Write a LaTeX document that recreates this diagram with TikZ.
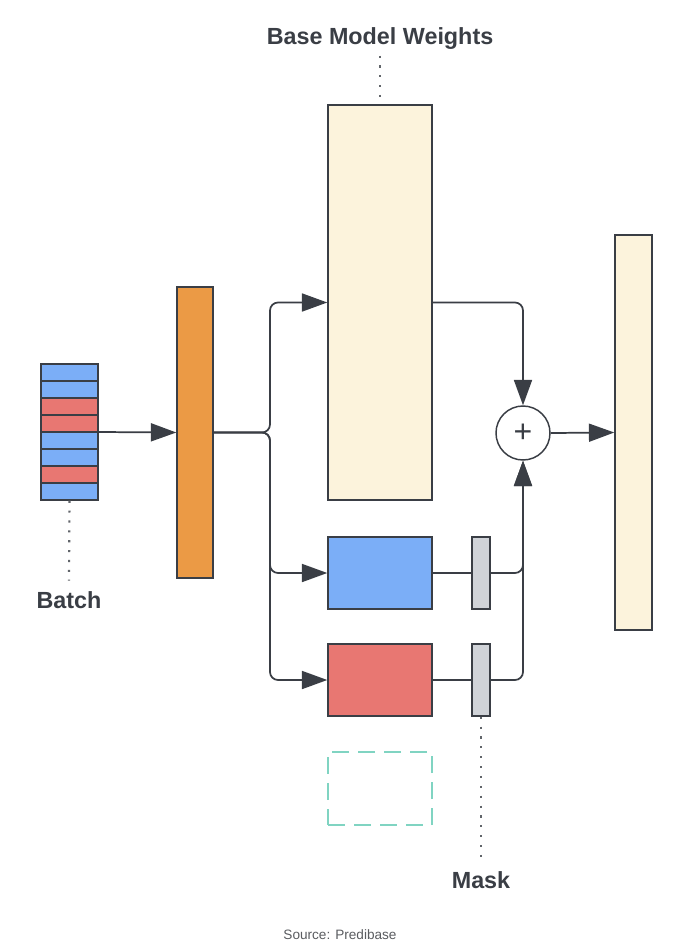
\documentclass[tikz,border=0pt]{standalone}
\usepackage{fontspec}
\setmainfont{Liberation Sans}
\usetikzlibrary{arrows.meta}

\definecolor{linegray}{HTML}{3A3E45}
\definecolor{batchblue}{HTML}{7BAEF7}
\definecolor{batchred}{HTML}{E87772}
\definecolor{layerorange}{HTML}{EB9A45}
\definecolor{weightcream}{HTML}{FCF3DC}
\definecolor{maskgray}{HTML}{D0D3D8}
\definecolor{slotteal}{HTML}{80D4C2}
\definecolor{sourcegray}{HTML}{5A5C60}

\tikzset{
	block/.style = {draw = linegray, line width = 1.1pt, inner sep = 0pt},
	stripe/.style = {block, line width = 1.3pt, minimum width = 42.75pt, minimum height = 12.75pt},
	conn/.style = {draw = linegray, line width = 1.3pt, rounded corners = 6pt},
	arr/.style = {conn, -{Triangle[length = 19pt, width = 13.5pt]}},
	dotline/.style = {draw = linegray!80, line width = 1.6pt, dash pattern = on 1.6pt off 5.8pt},
	tag/.style = {font = \fontsize{17.5}{20}\selectfont\bfseries, text = linegray, inner sep = 2pt}
}

\begin{document}
\begin{tikzpicture}[x = 0.75pt, y = -0.75pt]

	\useasboundingbox [fill = white] (0, 0) rectangle (680, 946);

	% Batch

	\node [stripe, fill = batchblue] (b1) at (69.5, 372.5) {};
	\node [stripe, fill = batchblue] (b2) at (69.5, 389.5) {};
	\node [stripe, fill = batchred] (b3) at (69.5, 406.5) {};
	\node [stripe, fill = batchred] (b4) at (69.5, 423.5) {};
	\node [stripe, fill = batchblue] (b5) at (69.5, 440.5) {};
	\node [stripe, fill = batchblue] (b6) at (69.5, 457.5) {};
	\node [stripe, fill = batchred] (b7) at (69.5, 474.5) {};
	\node [stripe, fill = batchblue] (b8) at (69.5, 491.5) {};
	\node [block, minimum width = 42.75pt, minimum height = 102pt] (batch) at (69.5, 432) {};

	\node [tag] (batchtag) at (69, 600) {Batch};
	\draw [dotline] (batch.south) -- ([yshift = 6pt] batchtag.north);

	% Layer input

	\node [block, fill = layerorange, minimum width = 27pt, minimum height = 218.25pt] (layer) at (195, 432.5) {};

	% Base weights and adapters

	\node [block, fill = weightcream, minimum width = 78pt, minimum height = 296.25pt] (base) at (380, 302.5) {};
	\node [block, fill = batchblue, minimum width = 78pt, minimum height = 54pt] (adblue) at (380, 573) {};
	\node [block, fill = batchred, minimum width = 78pt, minimum height = 54pt] (adred) at (380, 680) {};
	\node [draw = slotteal, line width = 1.5pt, dash pattern = on 13pt off 6.5pt, inner sep = 0pt,
		minimum width = 78pt, minimum height = 54.75pt] (slot) at (380, 788.5) {};

	\node [tag] (basetag) at (380, 39) {Base Model Weights};
	\draw [dotline] ([yshift = -2pt] basetag.south) -- (base.north);

	% Masks

	\node [block, fill = maskgray, minimum width = 13.5pt, minimum height = 54pt] (maskblue) at (481, 573) {};
	\node [block, fill = maskgray, minimum width = 13.5pt, minimum height = 54pt] (maskred) at (481, 680) {};

	\node [tag] (masktag) at (481, 880) {Mask};
	\draw [dotline] (maskred.south) -- ([yshift = 6pt] masktag.north);

	% Sum and output

	\node [circle, draw = linegray, line width = 1.1pt, minimum size = 40.5pt, inner sep = 0pt,
		font = \fontsize{24}{24}\selectfont, text = linegray] (plus) at (523, 433) {+};
	\node [block, fill = weightcream, minimum width = 27.75pt, minimum height = 296.25pt] (out) at (633.5, 432.5) {};

	% Connectors

	\coordinate (split) at (270, 432.5);

	\draw [arr] (batch.east) -- (layer.west);
	\draw [arr] (layer.east) -- (split) |- (base.west);
	\draw [arr] (layer.east) -- (split) |- (adblue.west);
	\draw [arr] (layer.east) -- (split) |- (adred.west);

	\draw [arr] (base.east) -| (plus.north);
	\draw [conn] (adblue.east) -- (maskblue.west);
	\draw [conn] (adred.east) -- (maskred.west);
	\draw [arr] (maskred.east) -| (plus.south);
	\draw [arr] (maskblue.east) -| (plus.south);
	\draw [arr] (plus.east) -- (out.west);

	% Source

	\node [font = \fontsize{10.2}{12}\selectfont, text = sourcegray] (source) at (340, 935) {Source: Predibase};

\end{tikzpicture}
\end{document}
